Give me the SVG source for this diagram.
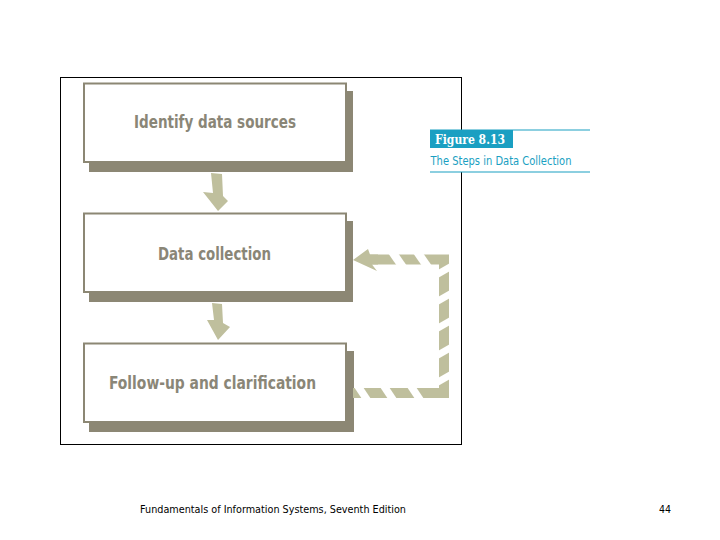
<svg xmlns="http://www.w3.org/2000/svg" width="720" height="540" viewBox="0 0 720 540">
<defs>
<style>
.frame{fill:#fff;stroke:#000;stroke-width:1}
.shadow{fill:#8c8774}
.box{fill:#fff;stroke:#8c8774;stroke-width:2}
.lbl{font-family:"DejaVu Sans Condensed","DejaVu Sans",sans-serif;font-weight:bold;font-size:17px;fill:#8a8677;text-anchor:middle}
.arr{fill:#bfbf9d}
.band{fill:none;stroke:#bfbf9d;stroke-width:10;stroke-linejoin:miter}
.teal{fill:#1a9fc2}
.tline{stroke:#1a9fc2;stroke-width:1.2}
.foot{font-family:"DejaVu Sans",sans-serif;font-size:11px;fill:#000}
</style>
<mask id="gaps" maskUnits="userSpaceOnUse" x="0" y="0" width="720" height="540">
<rect x="0" y="0" width="720" height="540" fill="#fff"/>
<polygon points="388,253 398,253 407,266 397,266" fill="#000"/>
<polygon points="413,253 423,253 432,266 422,266" fill="#000"/>
<polygon points="437,270.5 451,262.5 451,270.5 437,278.5" fill="#000"/>
<polygon points="437,297.5 451,289.5 451,297.5 437,305.5" fill="#000"/>
<polygon points="437,324.5 451,316.5 451,324.5 437,332.5" fill="#000"/>
<polygon points="437,351.5 451,343.5 451,351.5 437,359.5" fill="#000"/>
<polygon points="437,378.5 451,370.5 451,378.5 437,386.5" fill="#000"/>
<polygon points="354,387 363,387 371,399 362,399" fill="#000"/>
<polygon points="380,387 389,387 397,399 388,399" fill="#000"/>
<polygon points="407,387 416,387 424,399 415,399" fill="#000"/>
</mask>
</defs>
<rect x="0" y="0" width="720" height="540" fill="#fff"/>
<rect class="frame" x="60.5" y="77.5" width="401" height="367"/>

<g id="node-identify">
<rect class="shadow" x="89" y="91" width="264" height="81"/>
<rect class="box" x="84" y="83.5" width="262" height="78.5"/>
<text class="lbl" x="215" y="127.5" textLength="162" lengthAdjust="spacingAndGlyphs">Identify data sources</text>
</g>
<g id="node-collection">
<rect class="shadow" x="89" y="221" width="264" height="81"/>
<rect class="box" x="84" y="213.5" width="262" height="78.5"/>
<text class="lbl" x="214.5" y="259.5" textLength="113" lengthAdjust="spacingAndGlyphs">Data collection</text>
</g>
<g id="node-followup">
<rect class="shadow" x="89" y="351" width="265" height="81"/>
<rect class="box" x="84" y="343.5" width="262" height="78.5"/>
<text class="lbl" x="212.5" y="388.5" textLength="207" lengthAdjust="spacingAndGlyphs">Follow-up and clarification</text>
</g>

<g id="connectors">
<polygon class="arr" points="211,173 222,174 223,196 228,201 218,211 203,192 213,193"/>
<polygon class="arr" points="212,303 222,304 223,323 230,327 218,340 207,320 214,320"/>
<path class="band" d="M368 259.5 H444 V393 H353" mask="url(#gaps)"/>
<polygon class="arr" points="353,260 368,249 370,254.5 378,254.5 378,264.5 372,264.5 377,271"/>
</g>

<g id="caption">
<rect x="430" y="130" width="160" height="42" fill="#fff"/>
<line class="tline" x1="430" y1="130" x2="590" y2="130"/>
<rect class="teal" x="430" y="130" width="83" height="18"/>
<text x="435" y="143.5" font-family="'DejaVu Serif','Liberation Serif',serif" font-weight="bold" font-size="12" fill="#fff" textLength="70" lengthAdjust="spacingAndGlyphs">Figure 8.13</text>
<text x="430.5" y="165" font-family="'DejaVu Sans','Liberation Sans',sans-serif" font-size="11.5" fill="#1a9fc2" textLength="141" lengthAdjust="spacingAndGlyphs">The Steps in Data Collection</text>
<line class="tline" x1="430" y1="172" x2="590" y2="172"/>
</g>

<text class="foot" x="140" y="513" textLength="266" lengthAdjust="spacingAndGlyphs">Fundamentals of Information Systems, Seventh Edition</text>
<text class="foot" x="659" y="513" textLength="12" lengthAdjust="spacingAndGlyphs">44</text>
</svg>
